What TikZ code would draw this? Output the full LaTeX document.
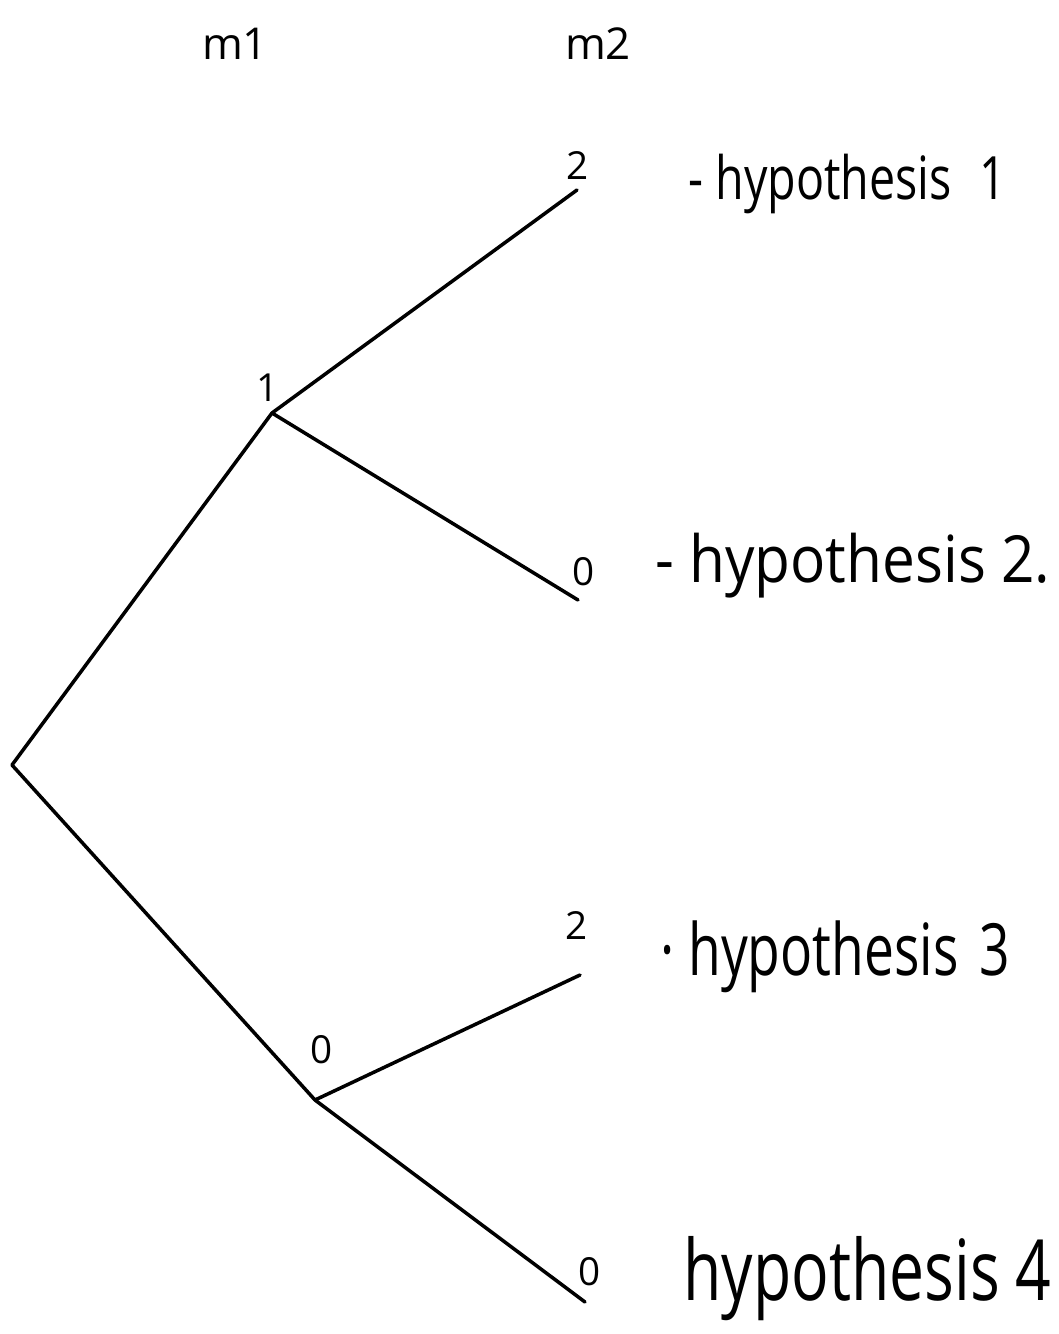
\documentclass[tikz,border=0pt]{standalone}
\usepackage{fontspec}
\setmainfont{Open Sans}
\usetikzlibrary{positioning}

\newcommand{\hyplabel}[3]{\scalebox{#2}[1]{\fontsize{#1}{#1}\selectfont #3}}

\begin{document}
\begin{tikzpicture}[
    x=0.02cm, y=-0.02cm,
    branch/.style={line width=2pt, line cap=round, line join=round},
    val/.style={font=\fontsize{22}{22}\selectfont, inner sep=0pt},
    head/.style={font=\fontsize{25}{25}\selectfont, inner sep=0pt},
    hyp/.style={anchor=base west, inner sep=0pt}
  ]
  \useasboundingbox (0,0) rectangle (1058,1334);

  % Columns
  \node[head] (m1) at (235,44) {m1};
  \node[head] (m2) at (598,44) {m2};

  % Tree points
  \coordinate (root) at (12,765);
  \coordinate (n1) at (272,413);
  \coordinate (n0) at (315,1100);
  \coordinate (l1) at (577,190);
  \coordinate (l2) at (578,600);
  \coordinate (l3) at (580,975);
  \coordinate (l4) at (585,1302);

  \draw[branch] (l1) -- (n1) -- (root) -- (n0) -- (l4);
  \draw[branch] (n1) -- (l2);
  \draw[branch] (n0) -- (l3);

  % Values
  \node[val] (v1) at (268,388) {1};
  \node[val] (v0) at (322,1050) {0};
  \node[val] (v11) at (578,166) {2};
  \node[val] (v10) at (584,572) {0};
  \node[val] (v01) at (577,925) {2};
  \node[val] (v00) at (590,1272) {0};

  % Hypotheses
  \node[hyp] (h1) at (688,200) {\hyplabel{34}{0.78}{- hypothesis\hspace{0.6em}1}};
  \node[hyp] (h2) at (655,582) {\hyplabel{37}{0.9}{- hypothesis 2.}};
  \node[hyp] (h3) at (660,975) {\hyplabel{41}{0.74}{· hypothesis\hspace{0.4em}3}};
  \node[hyp] (h4) at (683,1300) {\hyplabel{48}{0.74}{hypothesis 4}};
\end{tikzpicture}
\end{document}
